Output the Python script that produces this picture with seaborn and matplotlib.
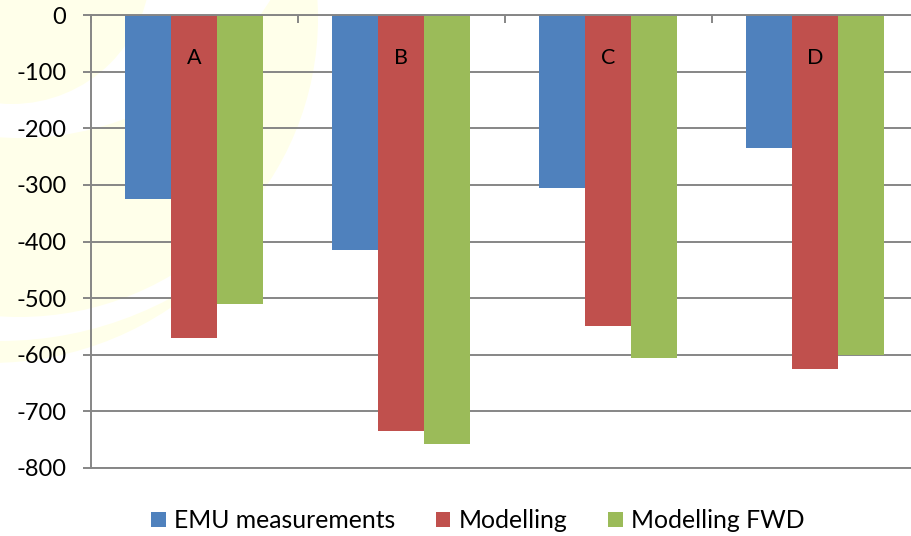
import matplotlib
matplotlib.use("Agg")
import matplotlib.pyplot as plt
from matplotlib.patches import Circle
import seaborn as sns
import pandas as pd

# ---- data ----
categories = ["A", "B", "C", "D"]
series_names = ["EMU measurements", "Modelling", "Modelling FWD"]
emu_measurements = [-325, -415, -305, -235]
modelling = [-570, -735, -550, -625]
modelling_fwd = [-510, -757, -605, -600]
y_ticks = [0, -100, -200, -300, -400, -500, -600, -700, -800]
series_colors = ["#4F81BD", "#C0504D", "#9BBB59"]

df = pd.DataFrame({
    "category": categories * 3,
    "series": [s for s in series_names for _ in categories],
    "value": emu_measurements + modelling + modelling_fwd,
})

sns.set_theme(style="white")
plt.rcParams["font.family"] = ["Lato", "DejaVu Sans"]

W, H = 912, 536
fig = plt.figure(figsize=(W / 100, H / 100), dpi=100)
fig.patch.set_facecolor("white")

# faint slide watermark behind the chart (pixel coordinates, y downwards)
bg = fig.add_axes([0, 0, 1, 1], zorder=0)
bg.set_xlim(0, W)
bg.set_ylim(H, 0)
bg.axis("off")
pale = "#FFFFEA"
for (cx, cy, r, col) in [(-10, 40, 323, pale), (0, -20, 361, "white"),
                         (19, 18, 299, pale), (20, -158, 296, "white"),
                         (12, -35, 139, pale)]:
    bg.add_patch(Circle((cx, cy), r, facecolor=col, edgecolor="none"))

left, right = 91, 918.4
top, bottom = 15, 468
ax = fig.add_axes([left / W, 1 - bottom / H, (right - left) / W, (bottom - top) / H], zorder=1)
ax.set_facecolor("none")

sns.barplot(data=df, x="category", y="value", hue="series", order=categories,
            hue_order=series_names, palette=series_colors, saturation=1,
            width=0.667, gap=0, errorbar=None, linewidth=0, ax=ax)

grid_col = "#868686"
ax.set_ylim(-800, 0)
ax.set_xlim(-0.5, 3.5)
ax.set_axisbelow(True)
ax.yaxis.grid(True, color=grid_col, linewidth=1.4)
ax.xaxis.grid(False)
ax.set_yticks(y_ticks)
ax.set_yticklabels([str(v) for v in y_ticks])
ax.tick_params(axis="y", left=True, direction="out", length=5.8, width=1.4,
               color=grid_col, pad=12, labelsize=17, labelcolor="black")

ax.xaxis.set_ticks_position("top")
ax.set_xticks([-0.5, 0.5, 1.5, 2.5, 3.5])
ax.set_xticklabels([])
ax.tick_params(axis="x", top=True, bottom=False, labeltop=False, labelbottom=False,
               direction="in", length=5.8, width=1.4, color=grid_col)
ax.set_xlabel("")
ax.set_ylabel("")

for side in ["top", "left", "bottom"]:
    ax.spines[side].set_visible(True)
    ax.spines[side].set_color(grid_col)
    ax.spines[side].set_linewidth(1.4)
ax.spines["right"].set_visible(False)

for i, c in enumerate(categories):
    ax.text(i, -76, c, ha="center", va="center", fontsize=15.5, color="black")

leg = ax.get_legend()
handles = leg.legend_handles
labels = [t.get_text() for t in leg.texts]
leg.remove()
fig.legend(handles, labels, loc="center", bbox_to_anchor=(0.524, 0.029), ncol=3,
           frameon=False, fontsize=17.8, handlelength=0.58, handleheight=0.58,
           handletextpad=0.34, columnspacing=1.65, labelcolor="black")

fig.savefig("out.png", dpi=100)
